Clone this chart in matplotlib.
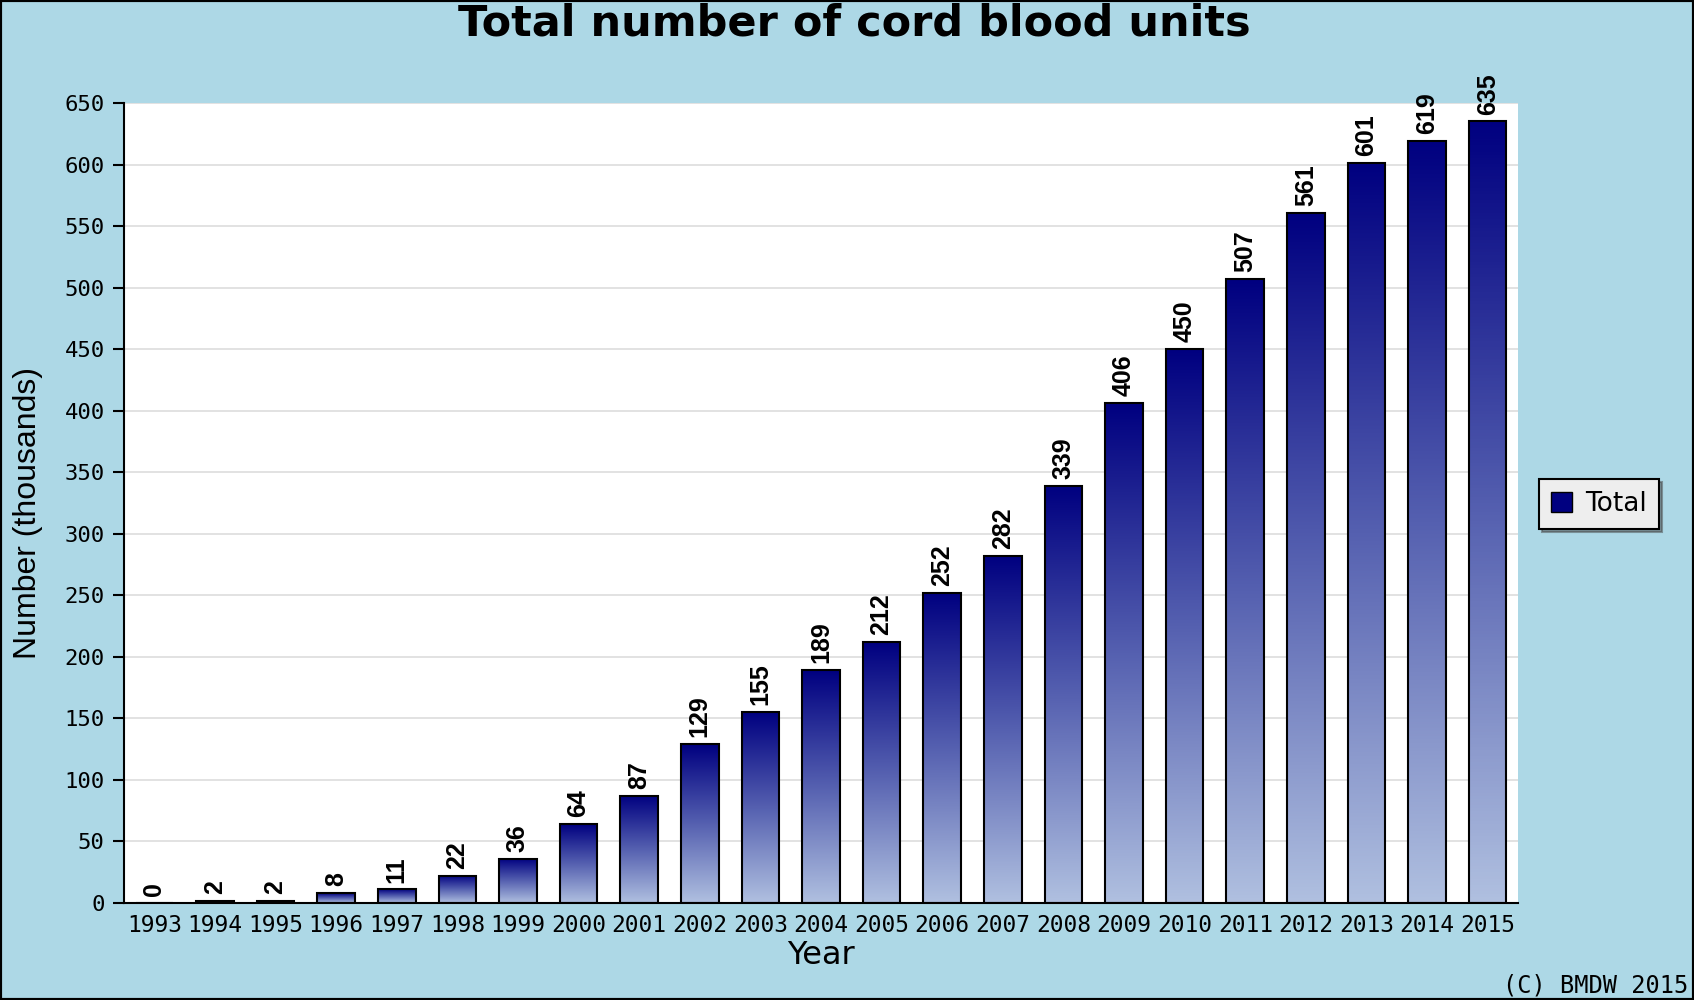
import numpy as np
import matplotlib
matplotlib.use("Agg")
import matplotlib.pyplot as plt
from matplotlib.colors import LinearSegmentedColormap
from matplotlib.patches import Patch, Rectangle

years = ["1993", "1994", "1995", "1996", "1997", "1998", "1999", "2000",
         "2001", "2002", "2003", "2004", "2005", "2006", "2007", "2008",
         "2009", "2010", "2011", "2012", "2013", "2014", "2015"]
totals = [0, 2, 2, 8, 11, 22, 36, 64, 87, 129, 155, 189, 212, 252, 282,
          339, 406, 450, 507, 561, 601, 619, 635]
yticks = [0, 50, 100, 150, 200, 250, 300, 350, 400, 450, 500, 550, 600, 650]

BG = "#add8e6"
NAVY = "#000080"
narrow = ["Liberation Sans Narrow", "Liberation Sans", "DejaVu Sans"]

fig = plt.figure(figsize=(16.94, 10), dpi=100, facecolor=BG)
ax = fig.add_axes([124 / 1694, 1 - 903 / 1000, (1518 - 124) / 1694, (903 - 103) / 1000])
ax.set_facecolor("white")

x = np.arange(len(years))
bars = ax.bar(x, totals, width=0.62, color="none", edgecolor="black",
              linewidth=1.5, zorder=3)

# vertical gradient inside each bar: light at the bottom, navy on top
grad_cmap = LinearSegmentedColormap.from_list("bar", ["#b0c0e0", "#5560b0", NAVY])
grad = np.linspace(0, 1, 256).reshape(-1, 1)
for b in bars:
    h = b.get_height()
    if h <= 0:
        continue
    x0 = b.get_x()
    ax.imshow(grad, cmap=grad_cmap, origin="lower", aspect="auto",
              extent=[x0, x0 + b.get_width(), 0, h], zorder=2)

for xi, v in zip(x, totals):
    ax.annotate(str(v), (xi, v), xytext=(0, 5), textcoords="offset points",
                rotation=90, ha="center", va="bottom", fontsize=18,
                fontweight="bold", family=narrow, color="black", zorder=4)

ax.set_xlim(-0.5, len(years) - 0.5)
ax.set_ylim(0, 650)
ax.set_xticks(x)
ax.set_xticklabels(years, family="DejaVu Sans Mono", fontsize=16.5)
ax.set_yticks(yticks)
ax.set_yticklabels([str(t) for t in yticks], family="DejaVu Sans Mono", fontsize=16)
ax.tick_params(axis="x", length=0, pad=8)
ax.tick_params(axis="y", length=8, width=1.5, pad=6, direction="out")
ax.grid(axis="y", color="#dddddd", linewidth=1.2, zorder=0)
ax.set_axisbelow(True)

for s in ["top", "right"]:
    ax.spines[s].set_visible(False)
for s in ["left", "bottom"]:
    ax.spines[s].set_linewidth(1.5)
    ax.spines[s].set_color("black")

ax.set_ylabel("Number (thousands)", family=narrow, fontsize=23)
ax.yaxis.set_label_coords(-0.058, 0.4875)
ax.set_xlabel("Year", family="DejaVu Sans", fontsize=23, labelpad=2)

fig.text(854 / 1694, 1 - 24 / 1000, "Total number of cord blood units",
         ha="center", va="center", fontsize=31, fontweight="bold",
         family="DejaVu Sans")

fig.text(1688 / 1694, 1 - 986 / 1000, "(C) BMDW 2015", ha="right",
         va="center", family="DejaVu Sans Mono", fontsize=17)

leg = fig.legend(handles=[Patch(facecolor=NAVY, edgecolor="black", label="Total")],
                 loc="center", bbox_to_anchor=(1599 / 1694, 1 - 504 / 1000),
                 fancybox=False, shadow=True, framealpha=1, edgecolor="black",
                 facecolor="#eeeeee", prop={"family": "DejaVu Sans", "size": 19},
                 handlelength=0.8, handleheight=0.8, handletextpad=0.5,
                 borderpad=0.45, borderaxespad=0)
leg.get_frame().set_linewidth(1.5)

fig.patches.append(Rectangle((0, 0), 1, 1, transform=fig.transFigure,
                             fill=False, edgecolor="black", linewidth=3))

fig.savefig("out.png", dpi=100, facecolor=BG)
